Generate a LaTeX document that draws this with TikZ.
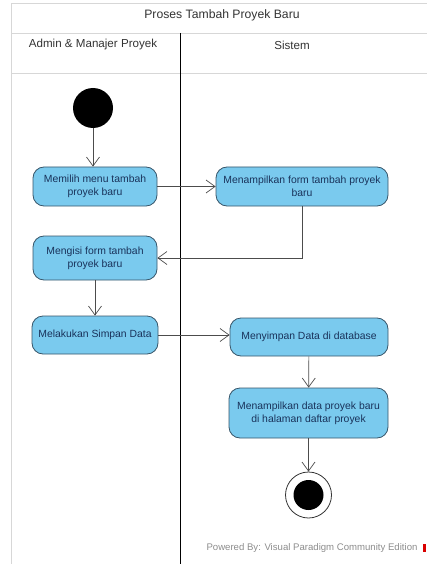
\documentclass[tikz,border=0pt]{standalone}
\usepackage{fontspec}
\setmainfont{Liberation Sans}
\usetikzlibrary{arrows.meta}

\definecolor{actfill}{RGB}{122,202,238}
\definecolor{actdraw}{RGB}{55,85,105}
\definecolor{acttext}{RGB}{25,50,90}
\definecolor{framegray}{RGB}{215,215,215}

\tikzset{
  action/.style={draw=actdraw, fill=actfill, rounded corners=11pt, text=acttext,
    font=\fontsize{10.4}{12.8}\selectfont, align=center, inner sep=2pt, line width=0.8pt},
  flow/.style={draw=black!70, line width=0.7pt, -{Straight Barb[length=9pt,width=13pt]}},
  frameline/.style={draw=framegray, line width=0.6pt},
}

\begin{document}
\begin{tikzpicture}[x=1pt,y=-1pt]
            \useasboundingbox (0,0) rectangle (427,564);

            % Frame and header rows
            \draw[frameline] (11,564) -- (11,3) -- (427,3);
            \draw[frameline] (11,33) -- (427,33);
            \draw[frameline] (11,73) -- (427,73);

            % Lane divider
            \draw[black, line width=0.7pt] (180,33) -- (180,564);

            % Title and lanes
            \node[font=\fontsize{12.2}{14}\selectfont, text=black!80] (title) at (222,15) {Proses Tambah Proyek Baru};
            \node[font=\fontsize{11.6}{13}\selectfont, text=black!80] (laneadmin) at (93,45) {Admin \& Manajer Proyek};
            \node[font=\fontsize{11.6}{13}\selectfont, text=black!80] (lanesistem) at (292,45) {Sistem};

            % Initial node
            \node[circle, fill=black, minimum size=40pt, inner sep=0pt] (start) at (93,108) {};

            % Actions
            \node[action, minimum width=124pt, minimum height=39pt] (pilih) at (95,186.5) {Memilih menu tambah\\proyek baru};
            \node[action, minimum width=172pt, minimum height=39pt] (tampilform) at (302,186.5) {Menampilkan form tambah proyek\\baru};
            \node[action, minimum width=124pt, minimum height=44pt] (isiform) at (95,258) {Mengisi form tambah\\proyek baru};
            \node[action, minimum width=126pt, minimum height=38pt] (simpan) at (95,335) {Melakukan Simpan Data};
            \node[action, minimum width=158pt, minimum height=38pt] (menyimpan) at (309,337) {Menyimpan Data di database};
            \node[action, minimum width=159pt, minimum height=50pt] (tampildata) at (308.5,413) {Menampilkan data proyek baru\\di halaman daftar proyek};

            % Final node
            \node[circle, draw=black!80, fill=white, line width=0.8pt, minimum size=46pt, inner sep=0pt] (akhir) at (308.5,495) {};
            \fill[black] (akhir) circle (15);

            % Flows
            \draw[flow] (start) -- (start |- pilih.north);
            \draw[flow] (pilih) -- (tampilform);
            \draw[flow] (tampilform.south) |- (isiform.east);
            \draw[flow] (isiform) -- (simpan);
            \draw[flow] (simpan.east) -- (menyimpan.west |- simpan.east);
            \draw[flow] (menyimpan) -- (tampildata);
            \draw[flow] (tampildata) -- (akhir);

            % Footer
            \node[font=\fontsize{9.6}{11}\selectfont, text=black!45, anchor=east] (footer) at (421,548) {Powered By: Visual Paradigm Community Edition};
            \fill[red!85!black] (footer.east) ++(2,-4) rectangle ++(3,8);
        \end{tikzpicture}
\end{document}
